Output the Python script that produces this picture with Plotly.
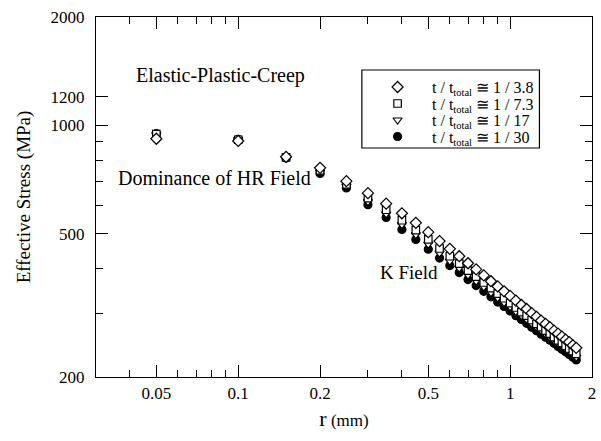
import plotly.graph_objects as go

r_mm = [0.05, 0.10, 0.15, 0.20, 0.25, 0.30, 0.35, 0.40, 0.45, 0.50,
        0.55, 0.60, 0.65, 0.70, 0.75, 0.80, 0.85, 0.90, 0.95, 1.00,
        1.05, 1.10, 1.15, 1.20, 1.25, 1.30, 1.35, 1.40, 1.45, 1.50,
        1.55, 1.60, 1.65, 1.70, 1.75]

s_38 = [918, 905, 818, 762, 700, 648, 606, 570, 536, 505,
        477, 454, 433, 414, 398, 383, 369, 357, 346, 336,
        326, 317, 309, 301, 294, 287, 281, 275, 269, 264,
        259, 254, 250, 245, 241]
s_73 = [945, 912, 815, 750, 686, 628, 583, 545, 512, 482,
        455, 433, 413, 395, 380, 366, 353, 341, 331, 321,
        312, 303, 296, 288, 281, 275, 269, 264, 258, 253,
        249, 244, 240, 236, 232]
s_17 = [942, 913, 813, 742, 678, 614, 568, 530, 497, 468,
        442, 420, 401, 384, 369, 356, 343, 332, 322, 313,
        304, 296, 289, 282, 275, 269, 263, 258, 253, 248,
        244, 239, 235, 231, 227]
s_30 = [948, 915, 812, 735, 670, 602, 555, 514, 482, 453,
        428, 408, 390, 373, 359, 346, 334, 323, 314, 305,
        296, 289, 282, 275, 269, 263, 258, 253, 248, 243,
        239, 235, 231, 227, 223]

legend_names = ["t / t<sub>total</sub> ≅ 1 / 3.8",
                "t / t<sub>total</sub> ≅ 1 / 7.3",
                "t / t<sub>total</sub> ≅ 1 / 17",
                "t / t<sub>total</sub> ≅ 1 / 30"]

x_ticks = [0.05, 0.1, 0.2, 0.5, 1, 2]
x_ticktext = ["0.05", "0.1", "0.2", "0.5", "1", "2"]
x_minor = [0.04, 0.06, 0.07, 0.08, 0.09, 0.3, 0.4, 0.6, 0.7, 0.8, 0.9]
y_ticks = [200, 500, 1000, 1200, 2000]
y_ticktext = ["200", "500", "1000", "1200", "2000"]
y_minor = [300, 400, 600, 700, 800, 900]

FONT = "Liberation Serif"

# plot area in pixels (for placing the hand-made legend)
L, R, T, B = 96, 596, 17, 377
def px(x):
    return (x - L) / (R - L)
def py(y):
    return (B - y) / (B - T)

fig = go.Figure()
# draw order: filled circles first, open markers on top
series = [
    (s_30, 3, "circle", "black", 8),
    (s_17, 2, "triangle-down", "white", 8),
    (s_73, 1, "square", "white", 7.5),
    (s_38, 0, "diamond", "white", 8.5),
]
for ys, idx, sym, fill, size in series:
    fig.add_trace(go.Scatter(
        x=r_mm, y=ys, mode="markers", name=legend_names[idx],
        showlegend=False,
        marker=dict(symbol=sym, size=size, color=fill,
                    line=dict(color="black", width=1.2)),
    ))

# legend markers on an invisible overlay axis spanning the plot area
leg_rows = [87, 103.5, 120, 136.5]
leg_syms = [("diamond", "white", 8.5), ("square", "white", 7.5),
            ("triangle-down", "white", 8), ("circle", "black", 8)]
for i, (sym, fill, size) in enumerate(leg_syms):
    fig.add_trace(go.Scatter(
        x=[px(400)], y=[py(leg_rows[i])], xaxis="x2", yaxis="y2",
        mode="markers", showlegend=False, hoverinfo="skip",
        marker=dict(symbol=sym, size=size, color=fill,
                    line=dict(color="black", width=1.2)),
    ))
    fig.add_annotation(
        x=px(433), y=py(leg_rows[i] + 1.5), xref="paper", yref="paper",
        text=legend_names[i].replace(
            "<sub>total</sub>",
            "<sub><span style='font-size:10.5px'>total</span></sub>"),
        showarrow=False, xanchor="left", yanchor="middle",
        font=dict(family=FONT, size=16, color="black"))
fig.add_shape(type="rect", xref="paper", yref="paper",
              x0=px(364), x1=px(543), y0=py(148), y1=py(70),
              line=dict(color="black", width=1.2), fillcolor="rgba(0,0,0,0)")

axis_common = dict(
    type="log", showgrid=False, zeroline=False, showline=True,
    linecolor="black", linewidth=1.3, mirror="allticks",
    ticks="inside", ticklen=12, tickwidth=1, tickcolor="black",
    tickfont=dict(family=FONT, size=17, color="black"),
)

xaxis = dict(
    **axis_common,
    range=[-1.5229, 0.30103],
    tickmode="array", tickvals=x_ticks, ticktext=x_ticktext,
    minor=dict(tickmode="array", tickvals=x_minor, ticks="inside",
               ticklen=7, tickwidth=1, tickcolor="black"),
    title=dict(text="<span style='font-size:22px'>r</span> (mm)",
               font=dict(family=FONT, size=17, color="black"), standoff=12),
)
yaxis = dict(
    **axis_common,
    range=[2.30103, 3.30103],
    tickmode="array", tickvals=y_ticks, ticktext=y_ticktext,
    ticklabelstandoff=7,
    minor=dict(tickmode="array", tickvals=y_minor, ticks="inside",
               ticklen=7, tickwidth=1, tickcolor="black"),
    title=dict(text="Effective Stress (MPa)",
               font=dict(family=FONT, size=19, color="black"), standoff=14),
)

fig.add_annotation(x=px(134), y=py(75), xref="paper", yref="paper",
                   text="Elastic-Plastic-Creep", showarrow=False,
                   xanchor="left", yanchor="middle",
                   font=dict(family=FONT, size=20, color="black"))
fig.add_annotation(x=px(116), y=py(178), xref="paper", yref="paper",
                   text="Dominance of HR Field", showarrow=False,
                   xanchor="left", yanchor="middle",
                   font=dict(family=FONT, size=20, color="black"))
fig.add_annotation(x=px(380), y=py(272), xref="paper", yref="paper",
                   text="K Field", showarrow=False,
                   xanchor="left", yanchor="middle",
                   font=dict(family=FONT, size=19, color="black"))

fig.update_layout(
    width=601, height=441,
    margin=dict(l=96, r=5, t=17, b=64),
    paper_bgcolor="white", plot_bgcolor="white",
    showlegend=False,
    font=dict(family=FONT, color="black"),
    xaxis=xaxis, yaxis=yaxis,
    xaxis2=dict(overlaying="x", range=[0, 1], visible=False, fixedrange=True),
    yaxis2=dict(overlaying="y", range=[0, 1], visible=False, fixedrange=True),
)

fig.write_html("out.html")
